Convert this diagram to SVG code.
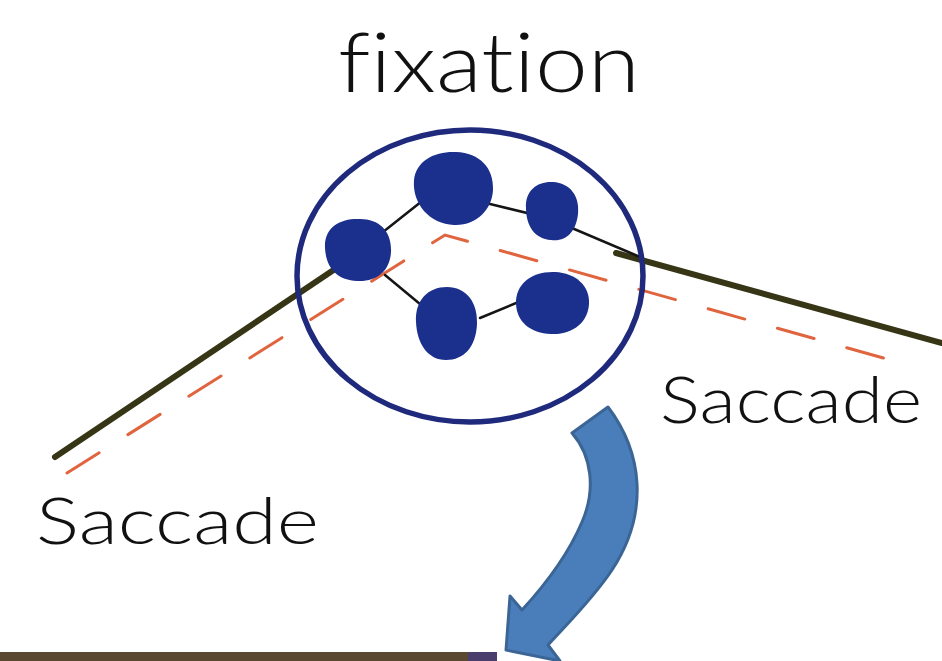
<svg xmlns="http://www.w3.org/2000/svg" width="942" height="661" viewBox="0 0 942 661">
<style>
.hand{font-family:Lato,"Open Sans","Liberation Sans",sans-serif;font-weight:300;fill:#111;font-variant-ligatures:none}
.blob{fill:#1b2f8c}
.thin{stroke:#151515;stroke-width:2.5;fill:none;stroke-linecap:round}
.thick{stroke:#363616;stroke-width:6;fill:none;stroke-linecap:round}
.dash{stroke:#e0643e;stroke-width:3;fill:none;stroke-dasharray:38 34;stroke-linecap:round}
</style>
<rect width="942" height="661" fill="#fff"/>
<g id="connectors">
<path class="dash" d="M67,473 L445,235 L912,366"/>
<line class="thick" x1="55" y1="457" x2="338" y2="267"/>
<line class="thick" x1="616" y1="253" x2="942" y2="343"/>
<line class="thin" x1="383" y1="232" x2="436" y2="190"/>
<line class="thin" x1="490" y1="204" x2="556" y2="220"/>
<line class="thin" x1="553" y1="220" x2="640" y2="257"/>
<line class="thin" x1="385" y1="275" x2="432" y2="314"/>
<line class="thin" x1="480" y1="318" x2="545" y2="291"/>
</g>
<g id="fixation-circle">
<ellipse cx="470" cy="276" rx="173" ry="146" fill="none" stroke="#1f2a7c" stroke-width="5.5"/>
</g>
<g id="blob-a"><path class="blob" d="M325,248 C324,226 342,218 360,219 C380,219 392,232 391,252 C390,270 378,282 357,281 C337,280 326,268 325,248 Z"/></g>
<g id="blob-b"><path class="blob" d="M414,180 C416,160 436,151 456,152 C480,153 494,168 493,190 C492,210 476,226 454,225 C430,224 412,204 414,180 Z"/></g>
<g id="blob-c"><path class="blob" d="M526,208 C525,190 538,181 553,182 C570,183 580,196 578,214 C576,232 566,242 551,240 C535,239 526,226 526,208 Z"/></g>
<g id="blob-d"><path class="blob" d="M416,322 C415,300 428,287 447,287 C466,287 478,302 477,324 C476,347 464,360 446,360 C428,360 417,344 416,322 Z"/></g>
<g id="blob-e"><path class="blob" d="M516,304 C515,284 532,271 555,272 C576,273 590,286 589,304 C588,322 573,335 551,334 C530,333 517,322 516,304 Z"/></g>
<g id="arrow">
<path d="M608,407 C642,452 650,512 612,570 C592,600 566,625 548,645 L560,661 L506,650 L510,596 L522,610 C545,585 568,555 582,522 C596,490 592,456 572,433 Z" fill="#4a7ebb" stroke="#3a6595" stroke-width="3" stroke-linejoin="round"/>
</g>
<g id="labels">
<text class="hand" x="338" y="92" font-size="82" textLength="302" lengthAdjust="spacingAndGlyphs">fixation</text>
<text class="hand" x="36" y="544" font-size="66" textLength="283" lengthAdjust="spacingAndGlyphs">Saccade</text>
<text class="hand" x="660" y="423" font-size="66" textLength="262" lengthAdjust="spacingAndGlyphs">Saccade</text>
</g>
<g id="bottom-bar">
<rect x="0" y="652" width="497" height="9" fill="#5a4930"/>
<rect x="468" y="652" width="29" height="9" fill="#4a3f6c"/>
</g>
</svg>
